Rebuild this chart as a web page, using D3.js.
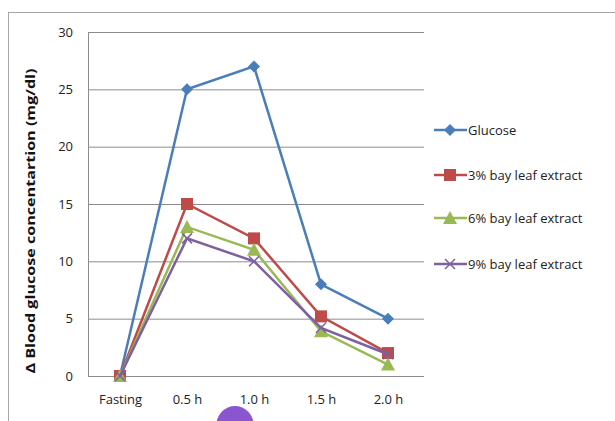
<!DOCTYPE html>
<html><head><meta charset="utf-8">
<script src="https://cdn.jsdelivr.net/npm/d3@7"></script>
<style>body{margin:0;background:#fff}svg{display:block}</style>
</head><body>
<script>
const categories = ["Fasting", "0.5 h", "1.0 h", "1.5 h", "2.0 h"];
const glucose = [0, 25, 27, 8, 5];
const bay3 = [0, 15, 12, 5.2, 2];
const bay6 = [0, 13, 11, 3.9, 1];
const bay9 = [0, 12, 10, 4.2, 1.9];
const yTicks = [0, 5, 10, 15, 20, 25, 30];
const seriesNames = ["Glucose", "3% bay leaf extract", "6% bay leaf extract", "9% bay leaf extract"];
const seriesColors = ["#4a7ebb", "#be4b48", "#98b954", "#7d60a0"];
const seriesMarkers = ["diamond", "square", "triangle", "cross"];
const seriesValues = [glucose, bay3, bay6, bay9];

const W = 615, H = 421;
const svg = d3.select("body").append("svg").attr("width", W).attr("height", H);
const font = "'Open Sans', 'Liberation Sans', Arial, sans-serif";

svg.append("rect").attr("x", 8.5).attr("y", 12.5).attr("width", 700).attr("height", 500)
  .attr("fill", "none").attr("stroke", "#a6a6a6").attr("stroke-width", 1);

const x = d3.scalePoint().domain(categories).range([120, 388]);
const y = d3.scaleLinear().domain([0, 30]).range([376, 32]);
const left = 88, right = 424;

yTicks.forEach(t => {
  if (t === 0) return;
  svg.append("line").attr("x1", left).attr("x2", right).attr("y1", y(t) + 0.5).attr("y2", y(t) + 0.5)
    .attr("stroke", "#8c8c8c").attr("stroke-width", 1);
});
svg.append("line").attr("x1", left + 0.5).attr("x2", left + 0.5).attr("y1", y(30)).attr("y2", y(0))
  .attr("stroke", "#8c8c8c");
svg.append("line").attr("x1", left).attr("x2", right).attr("y1", y(0) + 0.5).attr("y2", y(0) + 0.5)
  .attr("stroke", "#8c8c8c");

const yAxis = d3.axisLeft(y).tickValues(yTicks).tickSize(0).tickPadding(15);
const gy = svg.append("g").attr("transform", `translate(${left},0)`).call(yAxis);
gy.select(".domain").remove();
gy.selectAll("text").attr("font-family", font).attr("font-size", 13).attr("fill", "#222");

const xAxis = d3.axisBottom(x).tickSize(0).tickPadding(19);
const gx = svg.append("g").attr("transform", `translate(0,${y(0)})`).call(xAxis);
gx.select(".domain").remove();
gx.selectAll("text").attr("font-family", font).attr("font-size", 13).attr("fill", "#222");

svg.append("text").attr("transform", `translate(35,221) rotate(-90)`).attr("text-anchor", "middle")
  .attr("font-family", font).attr("font-size", 12.5).attr("font-weight", "bold").attr("fill", "#111")
  .attr("textLength", 305).attr("lengthAdjust", "spacingAndGlyphs")
  .text("Δ Blood  glucose concentartion  (mg/dl)");

function marker(g, type, cx, cy, color) {
  if (type === "diamond") {
    g.append("path").attr("d", `M${cx},${cy-6}L${cx+6},${cy}L${cx},${cy+6}L${cx-6},${cy}Z`).attr("fill", color);
  } else if (type === "square") {
    g.append("rect").attr("x", cx-6).attr("y", cy-6).attr("width", 12).attr("height", 12).attr("fill", color);
  } else if (type === "triangle") {
    g.append("path").attr("d", `M${cx},${cy-7}L${cx+7},${cy+6}L${cx-7},${cy+6}Z`).attr("fill", color);
  } else {
    g.append("path").attr("d", `M${cx-5},${cy-5}L${cx+5},${cy+5}M${cx-5},${cy+5}L${cx+5},${cy-5}`)
      .attr("stroke", color).attr("stroke-width", 1.5).attr("fill", "none");
  }
}

const line = d3.line().x((d, i) => x(categories[i])).y(d => y(d));
seriesValues.forEach((vals, s) => {
  const g = svg.append("g");
  g.append("path").attr("d", line(vals)).attr("fill", "none").attr("stroke", seriesColors[s]).attr("stroke-width", 2.5);
  vals.forEach((v, i) => marker(g, seriesMarkers[s], x(categories[i]), y(v), seriesColors[s]));
});

const legY = [130, 175, 218, 264];
seriesNames.forEach((n, s) => {
  const g = svg.append("g");
  g.append("line").attr("x1", 434).attr("x2", 467).attr("y1", legY[s]).attr("y2", legY[s])
    .attr("stroke", seriesColors[s]).attr("stroke-width", 2.5);
  marker(g, seriesMarkers[s], 450, legY[s], seriesColors[s]);
  g.append("text").attr("x", 468).attr("y", legY[s] + 4.5).attr("font-family", font).attr("font-size", 13)
    .attr("fill", "#222").text(n);
});

svg.append("circle").attr("cx", 235).attr("cy", 424.5).attr("r", 18.5).attr("fill", "#8a56d0");
</script>
</body></html>
